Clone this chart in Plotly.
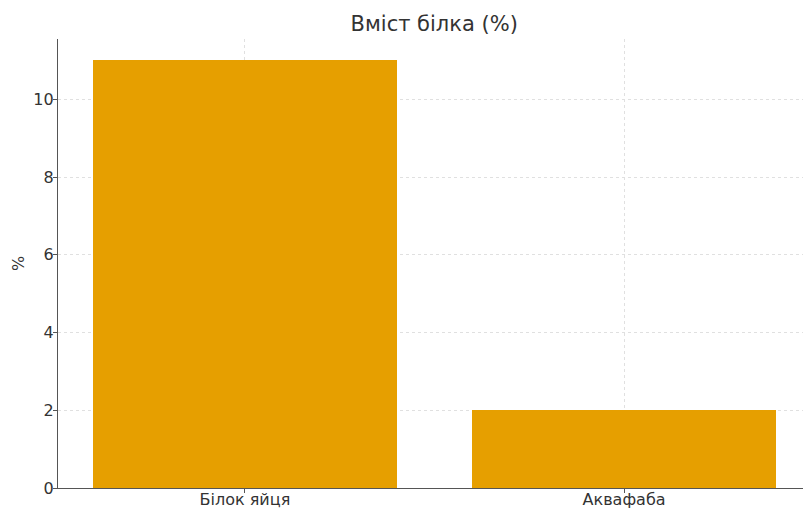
import plotly.graph_objects as go

# Protein content by product
categories = ["Білок яйця", "Аквафаба"]
protein_pct = [11, 2]
title_text = "Вміст білка (%)"
y_title = "%"
y_ticks = [0, 2, 4, 6, 8, 10]

fig = go.Figure(
    go.Bar(
        x=[0, 1],
        y=protein_pct,
        width=0.8,
        marker=dict(color="#E69F00", line=dict(width=0)),
    )
)

font_family = "DejaVu Sans"
text_color = "#333333"

fig.update_layout(
    width=803,
    height=508,
    margin=dict(l=58, r=0, t=39, b=20, autoexpand=False),
    paper_bgcolor="white",
    plot_bgcolor="white",
    showlegend=False,
    font=dict(family=font_family, size=16, color=text_color),
    title=dict(
        text=title_text,
        x=0.505,
        xref="paper",
        xanchor="center",
        y=1 - 24 / 508,
        yref="container",
        yanchor="middle",
        font=dict(size=21, color=text_color),
    ),
    bargap=0,
)

fig.update_xaxes(
    range=[-0.493, 1.472],
    tickmode="array",
    tickvals=[0, 1],
    ticktext=categories,
    ticks="outside",
    ticklen=4,
    tickcolor="#555555",
    ticklabelstandoff=-7,
    tickfont=dict(size=16),
    showline=True,
    linecolor="#555555",
    linewidth=1.2,
    showgrid=True,
    gridcolor="#e0e0e0",
    griddash="dot",
    gridwidth=1,
    zeroline=False,
    automargin=False,
    layer="below traces",
)
fig.update_yaxes(
    range=[0, 11.55],
    tickmode="array",
    tickvals=y_ticks,
    ticks="outside",
    ticklen=4,
    tickcolor="#555555",
    ticklabelstandoff=-4,
    tickfont=dict(size=16),
    showline=True,
    linecolor="#555555",
    linewidth=1.2,
    showgrid=True,
    gridcolor="#e0e0e0",
    griddash="dot",
    gridwidth=1,
    zeroline=False,
    automargin=False,
    title=dict(text=y_title, font=dict(size=16, color=text_color), standoff=4),
)

fig.write_html("out.html")
